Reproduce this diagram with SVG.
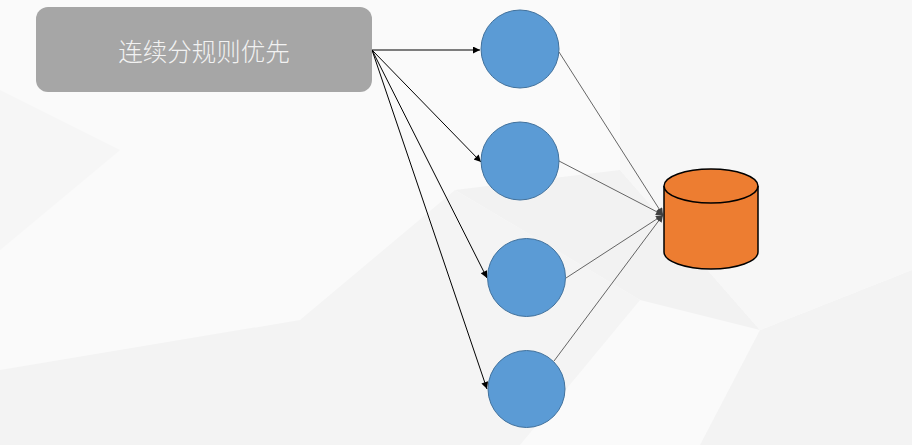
<svg xmlns="http://www.w3.org/2000/svg" width="912" height="445" viewBox="0 0 912 445">
<style>
.circ{fill:#5b9bd5;stroke:#41719c;stroke-width:1}
.src{stroke:#000;stroke-width:1;fill:none}
.dst{stroke:#404040;stroke-width:0.8;fill:none}
.lbl{font-family:"Noto Sans CJK SC","Liberation Sans",sans-serif;font-size:24.5px;font-weight:300;fill:#f2f2f2}
.bgp{stroke:none}
</style>
<defs>
<marker id="ah" viewBox="0 0 10 10" refX="10" refY="5" markerWidth="9" markerHeight="7" markerUnits="userSpaceOnUse" orient="auto">
<path d="M0,0 L10,5 L0,10 z" fill="#000"/>
</marker>
<marker id="ah2" viewBox="0 0 10 10" refX="10" refY="5" markerWidth="8" markerHeight="7" markerUnits="userSpaceOnUse" orient="auto">
<path d="M0,0 L10,5 L0,10 z" fill="#404040"/>
</marker>
</defs>
<g id="background">
<rect width="912" height="445" fill="#fafafa"/>
<polygon class="bgp" points="0,90 120,150 0,250" fill="#f6f6f6"/>
<polygon class="bgp" points="455,190 620,170 760,330 640,300" fill="#f2f2f2"/>
<polygon class="bgp" points="300,320 455,190 640,300 520,445 300,445" fill="#f4f4f4"/>
<polygon class="bgp" points="0,370 300,320 300,445 0,445" fill="#f3f3f3"/>
<polygon class="bgp" points="760,330 912,270 912,445 700,445" fill="#f3f3f3"/>
<polygon class="bgp" points="620,0 912,0 912,270 760,330 620,170" fill="#f7f7f7"/>
</g>
<g id="connectors">
<line class="src" x1="372" y1="50" x2="480" y2="50" marker-end="url(#ah)"/>
<line class="src" x1="372" y1="50" x2="481" y2="162" marker-end="url(#ah)"/>
<line class="src" x1="372" y1="50" x2="487" y2="278" marker-end="url(#ah)"/>
<line class="src" x1="372" y1="50" x2="487" y2="389" marker-end="url(#ah)"/>
<line class="dst" x1="559" y1="52" x2="663" y2="215" marker-end="url(#ah2)"/>
<line class="dst" x1="559" y1="161" x2="663" y2="215" marker-end="url(#ah2)"/>
<line class="dst" x1="566" y1="278" x2="663" y2="215" marker-end="url(#ah2)"/>
<line class="dst" x1="554" y1="361" x2="663" y2="215" marker-end="url(#ah2)"/>
</g>
<g id="rule-box">
<rect x="36" y="7" width="336" height="85" rx="12" fill="#a6a6a6"/>
<text class="lbl" x="204" y="50" text-anchor="middle" dominant-baseline="central">连续分规则优先</text>
</g>
<g id="node1"><circle class="circ" cx="520" cy="49" r="39"/></g>
<g id="node2"><circle class="circ" cx="520" cy="161" r="39"/></g>
<g id="node3"><circle class="circ" cx="526.5" cy="277.5" r="39"/></g>
<g id="node4"><circle class="circ" cx="526.5" cy="389" r="38.5"/></g>
<g id="database">
<path d="M664,186 L664,252 A47,17 0 0 0 758,252 L758,186" fill="#ed7d31" stroke="#000" stroke-width="1.5"/>
<ellipse cx="711" cy="186" rx="47" ry="17" fill="#ed7d31" stroke="#000" stroke-width="1.5"/>
</g>
</svg>
